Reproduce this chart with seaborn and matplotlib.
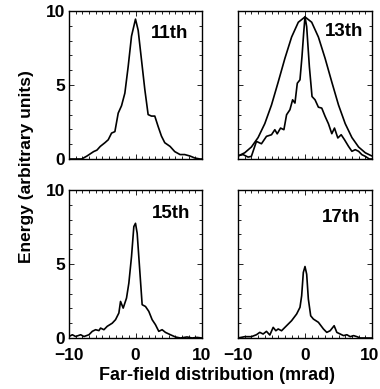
import numpy as np
import pandas as pd
import matplotlib
matplotlib.use("Agg")
import matplotlib.pyplot as plt
from matplotlib.ticker import MultipleLocator
from matplotlib.transforms import ScaledTranslation
import seaborn as sns

sns.set_theme(style="white")
plt.rcParams['font.family'] = ['Liberation Sans', 'DejaVu Sans']
plt.rcParams['font.weight'] = 'bold'
for k in ['text.color', 'axes.labelcolor', 'xtick.color', 'ytick.color', 'axes.edgecolor']:
    plt.rcParams[k] = 'black'

# 11th harmonic
x11 = [-10, -8.1, -7.3, -6.3, -5.8, -5.3, -4.6, -4.1, -3.6, -3.1, -2.6, -2.1, -1.6, -1.1, -0.6, 0,
       0.4, 0.9, 1.4, 1.9, 2.4, 2.9, 3.4, 3.9, 4.4, 5.2, 5.9, 6.7, 7.4, 8.2, 8.9, 9.7, 10]
e11 = [0, 0, 0.2, 0.5, 0.6, 0.85, 1.1, 1.3, 1.75, 1.85, 3.1, 3.6, 4.45, 6.25, 8.3, 9.45,
       8.7, 6.7, 4.7, 3.0, 2.9, 2.9, 2.2, 1.55, 1.1, 0.85, 0.5, 0.3, 0.3, 0.2, 0.07, 0, 0]

# 13th harmonic (measured)
x13 = [-10, -9.25, -8.5, -8, -7.25, -6.5, -5.75, -5, -4.5, -4.15, -3.65, -3.15, -2.75, -2.25,
       -1.85, -1.5, -1.15, -0.75, -0.45, -0.2, 0, 0.25, 0.65, 1.05, 1.5, 2.0, 2.5, 3.0, 3.5,
       4.0, 4.4, 4.9, 5.4, 5.9, 6.5, 7.0, 7.5, 8.0, 8.5, 9.0, 9.6, 10]
e13 = [0.22, 0.3, 0.13, 0.18, 1.19, 1.03, 1.53, 1.64, 1.98, 1.7, 2.09, 1.98, 2.99, 3.33,
       4.0, 3.78, 5.12, 5.35, 6.92, 8.5, 9.62, 8.94, 6.25, 4.22, 4.0, 3.5, 3.44, 2.88, 2.38,
       1.71, 2.09, 1.42, 1.64, 1.3, 0.85, 0.52, 0.63, 0.52, 0.29, 0.18, 0, 0]

# 13th harmonic (smooth envelope)
x13s = [-10, -9, -8, -7, -6, -5, -4, -3, -2, -1, 0, 1, 2, 3, 4, 5, 6, 7, 8, 9, 10]
e13s = [0.2, 0.42, 0.81, 1.45, 2.39, 3.65, 5.2, 6.8, 8.24, 9.24, 9.6,
        9.24, 8.24, 6.8, 5.2, 3.65, 2.39, 1.45, 0.81, 0.42, 0.2]

# 15th harmonic
x15 = [-10, -9.5, -9, -8.25, -7.75, -7, -6.5, -6, -5.5, -5.25, -4.75, -4.25, -3.5, -3, -2.5,
       -2.25, -1.85, -1.35, -1.0, -0.6, -0.25, 0, 0.25, 0.6, 1.0, 1.5, 2.0, 2.5, 3.0, 3.5,
       4.0, 4.5, 5.25, 6.0, 6.75, 7.75, 8.5, 9.25, 10]
e15 = [0.1, 0.22, 0.1, 0.22, 0.1, 0.22, 0.45, 0.56, 0.5, 0.67, 0.56, 0.79, 1.0, 1.24, 1.69,
       2.47, 2.02, 2.7, 3.71, 5.5, 7.53, 7.75, 7.08, 4.83, 2.25, 2.13, 1.8, 1.24, 0.9, 0.45,
       0.56, 0.38, 0.22, 0.07, 0, 0.07, 0, 0.04, 0]

# 17th harmonic
x17 = [-10, -9, -8, -7.25, -6.75, -6.25, -5.75, -5.25, -4.75, -4.35, -4.0, -3.5, -2.75, -2.0,
       -1.25, -0.75, -0.5, -0.25, 0, 0.25, 0.5, 0.85, 1.25, 2.0, 2.75, 3.25, 3.75, 4.35, 4.75,
       5.25, 5.75, 6.25, 6.75, 7.25, 7.75, 8.25, 10]
e17 = [0, 0.09, 0.09, 0.22, 0.38, 0.27, 0.45, 0.2, 0.72, 0.49, 0.61, 0.49, 0.83, 1.17,
       1.62, 2.07, 2.85, 4.43, 4.83, 4.31, 2.63, 1.5, 1.28, 1.06, 0.61, 0.38, 0.49, 0.83, 0.38,
       0.27, 0.16, 0.22, 0.09, 0.16, 0.09, 0, 0]

labels = ["11th", "13th", "15th", "17th"]
xticks = [-10, 0, 10]
xticklabels = ["\u221210", "0", "10"]
yticks = [0, 5, 10]

fig = plt.figure(figsize=(3.8, 3.89), dpi=100)
W, H = 380, 389
boxes = [(69, 11, 133, 148), (238, 11, 134, 148), (69, 190, 133, 148), (238, 190, 134, 148)]
axes = [fig.add_axes([x / W, 1 - (y + h) / H, w / W, h / H]) for x, y, w, h in boxes]

series = [[(x11, e11)], [(x13, e13), (x13s, e13s)], [(x15, e15)], [(x17, e17)]]
label_pos = [(170, 34), (344, 32), (171, 213), (341, 218)]

for i, ax in enumerate(axes):
    for xs, es in series[i]:
        df = pd.DataFrame({"x": xs, "E": es})
        sns.lineplot(data=df, x="x", y="E", ax=ax, color="black", linewidth=1.2, sort=False)
    ax.set_xlim(-10, 10)
    ax.set_ylim(0, 10)
    ax.set_xticks(xticks)
    ax.set_yticks(yticks)
    ax.xaxis.set_minor_locator(MultipleLocator(1))
    ax.yaxis.set_minor_locator(MultipleLocator(1))
    ax.tick_params(which="both", direction="in", top=True, right=True, bottom=True, left=True,
                   width=0.6, color="black")
    ax.tick_params(which="major", length=3.5, labelsize=12.5)
    ax.tick_params(which="minor", length=2)
    ax.tick_params(axis="x", which="major", pad=7)
    ax.tick_params(axis="y", which="major", pad=3)
    ax.set_xlabel("")
    ax.set_ylabel("")
    for s in ax.spines.values():
        s.set_color("black")
        s.set_linewidth(1.0)
    if i in (0, 1):
        ax.set_xticklabels([])
    else:
        ax.set_xticklabels(xticklabels, fontweight="bold")
    if i in (1, 3):
        ax.set_yticklabels([])
    else:
        ax.set_yticklabels([str(t) for t in yticks], fontweight="bold")
    lx, ly = label_pos[i]
    fig.text(lx / W, 1 - ly / H, labels[i], ha="center", va="center", fontsize=13.5,
             fontweight="bold")

# keep the right-most tick label inside the figure
last = axes[3].get_xticklabels()[-1]
last.set_transform(last.get_transform() + ScaledTranslation(-2.5 / 100, 0, fig.dpi_scale_trans))

fig.text(27 / W, 1 - 167 / H, "Energy (arbitrary units)", rotation=90, ha="center",
         va="center", fontsize=12.5, fontweight="bold")
fig.text(217 / W, 1 - 375 / H, "Far-field distribution (mrad)", ha="center", va="center",
         fontsize=13, fontweight="bold")

fig.savefig("out.png", dpi=100)
